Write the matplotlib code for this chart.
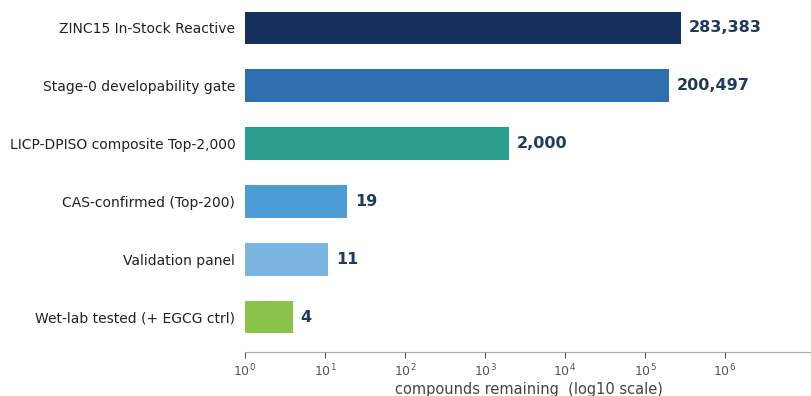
import numpy as np
import matplotlib.pyplot as plt

stages = ["ZINC15 In-Stock Reactive", "Stage-0 developability gate",
          "LICP-DPISO composite Top-2,000", "CAS-confirmed (Top-200)",
          "Validation panel", "Wet-lab tested (+ EGCG ctrl)"]
counts = [283383, 200497, 2000, 19, 11, 4]
colors = ["#16325c", "#2e6fad", "#2a9d8f", "#4d9cd6", "#7bb6e1", "#8bc34a"]

fig = plt.figure(figsize=(8.12, 3.96), dpi=100)
ax = fig.add_axes([245 / 812, 44 / 396, 567 / 812, 359 / 396])

y = np.arange(len(stages))
ax.barh(y, counts, height=0.56, color=colors, left=0)
ax.set_xscale("log")
ax.set_xlim(1, 10 ** (567 / 80))
ax.set_ylim(5.6, -0.6)

for yi, c in zip(y, counts):
    ax.annotate(f"{c:,}", (c, yi), xytext=(5.5, 0), textcoords="offset points",
                va="center", ha="left", fontsize=11.5, fontweight="bold",
                color="#1f3a5f")

ax.set_yticks(y)
ax.set_yticklabels(stages, fontsize=10, color="#222222")
ax.tick_params(axis="y", length=0, pad=7)
ax.set_xticks([10 ** k for k in range(7)])
ax.xaxis.set_minor_locator(plt.NullLocator())
ax.tick_params(axis="x", colors="#555555", labelsize=9, length=4)
ax.set_xlabel("compounds remaining  (log10 scale)", fontsize=10.5,
              color="#444444", labelpad=2)

for s in ["top", "right", "left"]:
    ax.spines[s].set_visible(False)
ax.spines["bottom"].set_color("#aaaaaa")

fig.savefig("out.png", dpi=100)
